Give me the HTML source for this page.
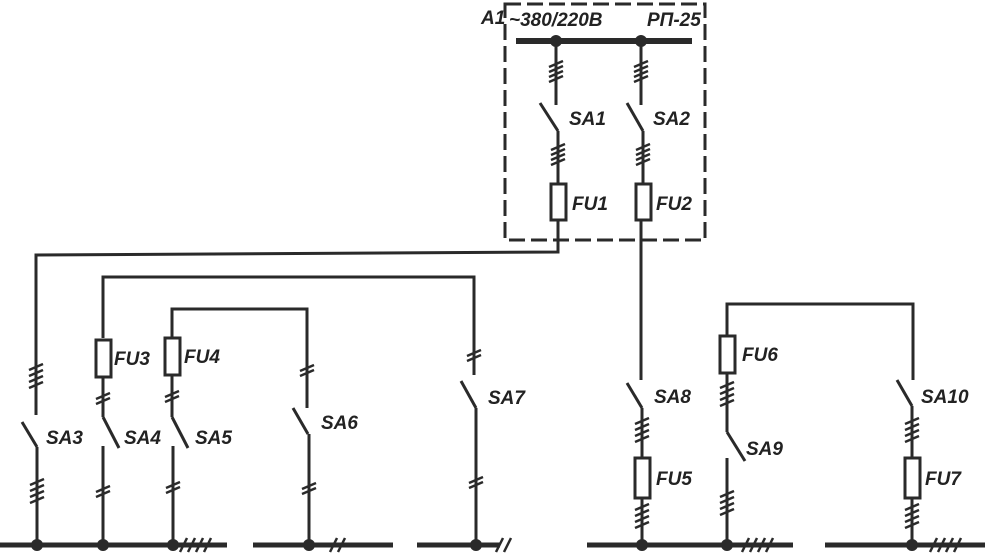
<!DOCTYPE html>
<html><head><meta charset="utf-8"><style>
html,body{margin:0;padding:0;background:#fff;}
svg{display:block}
text{font-family:"Liberation Sans",sans-serif;font-style:italic;font-weight:bold;font-size:19px;fill:#222;}
</style></head><body>
<svg width="985" height="557" viewBox="0 0 985 557" xmlns="http://www.w3.org/2000/svg">
<g stroke="#2a2a2a" fill="none" stroke-linecap="butt">
<rect x="505" y="4" width="200" height="236" stroke-width="3" stroke-dasharray="16,6"/>
<line x1="516" y1="41" x2="692" y2="41" stroke-width="6"/>
<line x1="556" y1="41" x2="556" y2="105" stroke-width="3"/>
<line x1="558" y1="131" x2="558" y2="184" stroke-width="3"/>
<line x1="540" y1="103" x2="558" y2="131" stroke-width="3"/>
<rect x="551" y="184" width="15" height="36" stroke-width="3"/>
<polyline points="558,220 558,252 36,255 36,415" stroke-width="3"/>
<line x1="641" y1="41" x2="641" y2="105" stroke-width="3"/>
<line x1="643" y1="131" x2="643" y2="184" stroke-width="3"/>
<line x1="627" y1="103" x2="643" y2="131" stroke-width="3"/>
<rect x="636" y="184" width="15" height="36" stroke-width="3"/>
<line x1="641" y1="220" x2="641" y2="380" stroke-width="3"/>
<line x1="22" y1="422" x2="37" y2="447" stroke-width="3"/>
<line x1="37" y1="447" x2="37" y2="545" stroke-width="3"/>
<polyline points="103,338 103,277 474,277 474,375" stroke-width="3"/>
<rect x="96" y="340" width="15" height="37" stroke-width="3"/>
<line x1="103" y1="377" x2="103" y2="417" stroke-width="3"/>
<line x1="103" y1="417" x2="119" y2="448" stroke-width="3"/>
<line x1="103" y1="446" x2="103" y2="545" stroke-width="3"/>
<polyline points="172,338 172,309 307,309 307,408" stroke-width="3"/>
<rect x="165" y="338" width="15" height="37" stroke-width="3"/>
<line x1="172" y1="375" x2="172" y2="417" stroke-width="3"/>
<line x1="172" y1="417" x2="188" y2="448" stroke-width="3"/>
<line x1="173" y1="446" x2="173" y2="545" stroke-width="3"/>
<line x1="293" y1="408" x2="308" y2="434" stroke-width="3"/>
<line x1="309" y1="434" x2="309" y2="545" stroke-width="3"/>
<line x1="461" y1="381" x2="476" y2="408" stroke-width="3"/>
<line x1="476" y1="408" x2="476" y2="545" stroke-width="3"/>
<line x1="627" y1="383" x2="642" y2="408" stroke-width="3"/>
<line x1="642" y1="408" x2="642" y2="457" stroke-width="3"/>
<rect x="635" y="458" width="15" height="40" stroke-width="3"/>
<line x1="642" y1="498" x2="642" y2="545" stroke-width="3"/>
<polyline points="727,335 727,304 913,304 913,380" stroke-width="3"/>
<rect x="720" y="336" width="15" height="37" stroke-width="3"/>
<line x1="727" y1="373" x2="727" y2="432" stroke-width="3"/>
<line x1="727" y1="432" x2="745" y2="461" stroke-width="3"/>
<line x1="727" y1="458" x2="727" y2="545" stroke-width="3"/>
<line x1="897" y1="380" x2="912" y2="406" stroke-width="3"/>
<line x1="912" y1="406" x2="912" y2="457" stroke-width="3"/>
<rect x="905" y="458" width="15" height="40" stroke-width="3"/>
<line x1="912" y1="498" x2="912" y2="545" stroke-width="3"/>
<g stroke-width="5">
<line x1="0" y1="545" x2="227" y2="545"/>
<line x1="253" y1="545" x2="393" y2="545"/>
<line x1="417" y1="545" x2="500" y2="545"/>
<line x1="587" y1="545" x2="793" y2="545"/>
<line x1="825" y1="545" x2="985" y2="545"/>
</g>
<g stroke-width="2.5">
<path d="M549,67 L563,61 M549,72 L563,66 M549,77 L563,71 M549,82 L563,76"/>
<path d="M551,150 L565,144 M551,155 L565,149 M551,160 L565,154 M551,165 L565,159"/>
<path d="M634,67 L648,61 M634,72 L648,66 M634,77 L648,71 M634,82 L648,76"/>
<path d="M636,150 L650,144 M636,155 L650,149 M636,160 L650,154 M636,165 L650,159"/>
<path d="M29,370 L43,364 M29,376 L43,370 M29,382 L43,376 M29,388 L43,382"/>
<path d="M30,485 L44,479 M30,491 L44,485 M30,497 L44,491 M30,503 L44,497"/>
<path d="M96,399 L110,393 M96,404 L110,398"/>
<path d="M96,492 L110,486 M96,497 L110,491"/>
<path d="M165,397 L179,391 M165,402 L179,396"/>
<path d="M166,488 L180,482 M166,493 L180,487"/>
<path d="M300,371 L314,365 M300,376 L314,370"/>
<path d="M302,489 L316,483 M302,494 L316,488"/>
<path d="M467,356 L481,350 M467,361 L481,355"/>
<path d="M469,483 L483,477 M469,488 L483,482"/>
<path d="M635,424 L649,418 M635,430 L649,424 M635,436 L649,430 M635,442 L649,436"/>
<path d="M635,510 L649,504 M635,516 L649,510 M635,522 L649,516 M635,528 L649,522"/>
<path d="M720,388 L734,382 M720,394 L734,388 M720,400 L734,394 M720,406 L734,400"/>
<path d="M720,497 L734,491 M720,503 L734,497 M720,509 L734,503 M720,515 L734,509"/>
<path d="M905,424 L919,418 M905,430 L919,424 M905,436 L919,430 M905,442 L919,436"/>
<path d="M905,510 L919,504 M905,516 L919,510 M905,522 L919,516 M905,528 L919,522"/>
<path d="M180,552 L187,538 M188,552 L195,538 M196,552 L203,538 M204,552 L211,538"/>
<path d="M330,552 L337,538 M338,552 L345,538"/>
<path d="M496,552 L503,538 M504,552 L511,538"/>
<path d="M742,552 L749,538 M750,552 L757,538 M758,552 L765,538 M766,552 L773,538"/>
<path d="M930,552 L937,538 M938,552 L945,538 M946,552 L953,538 M954,552 L961,538"/>
</g>
</g>
<g fill="#2a2a2a">
<circle cx="556" cy="41" r="6"/><circle cx="641" cy="41" r="6"/>
<circle cx="37" cy="545" r="6"/><circle cx="103" cy="545" r="6"/><circle cx="173" cy="545" r="6"/>
<circle cx="309" cy="545" r="6"/><circle cx="476" cy="545" r="6"/>
<circle cx="642" cy="545" r="6"/><circle cx="727" cy="545" r="6"/><circle cx="912" cy="545" r="6"/>
</g>
<text x="481" y="24">A1</text>
<text x="509" y="26" font-size="21">~380/220B</text>
<text x="647" y="26" font-size="20">РП-25</text>
<text x="569" y="125">SA1</text>
<text x="653" y="125">SA2</text>
<text x="572" y="210">FU1</text>
<text x="656" y="210">FU2</text>
<text x="46" y="444">SA3</text>
<text x="114" y="365">FU3</text>
<text x="124" y="444">SA4</text>
<text x="184" y="363">FU4</text>
<text x="195" y="444">SA5</text>
<text x="321" y="429">SA6</text>
<text x="488" y="404">SA7</text>
<text x="654" y="403">SA8</text>
<text x="656" y="485">FU5</text>
<text x="742" y="361">FU6</text>
<text x="746" y="455">SA9</text>
<text x="921" y="403">SA10</text>
<text x="925" y="485">FU7</text>
</svg>
</body></html>
